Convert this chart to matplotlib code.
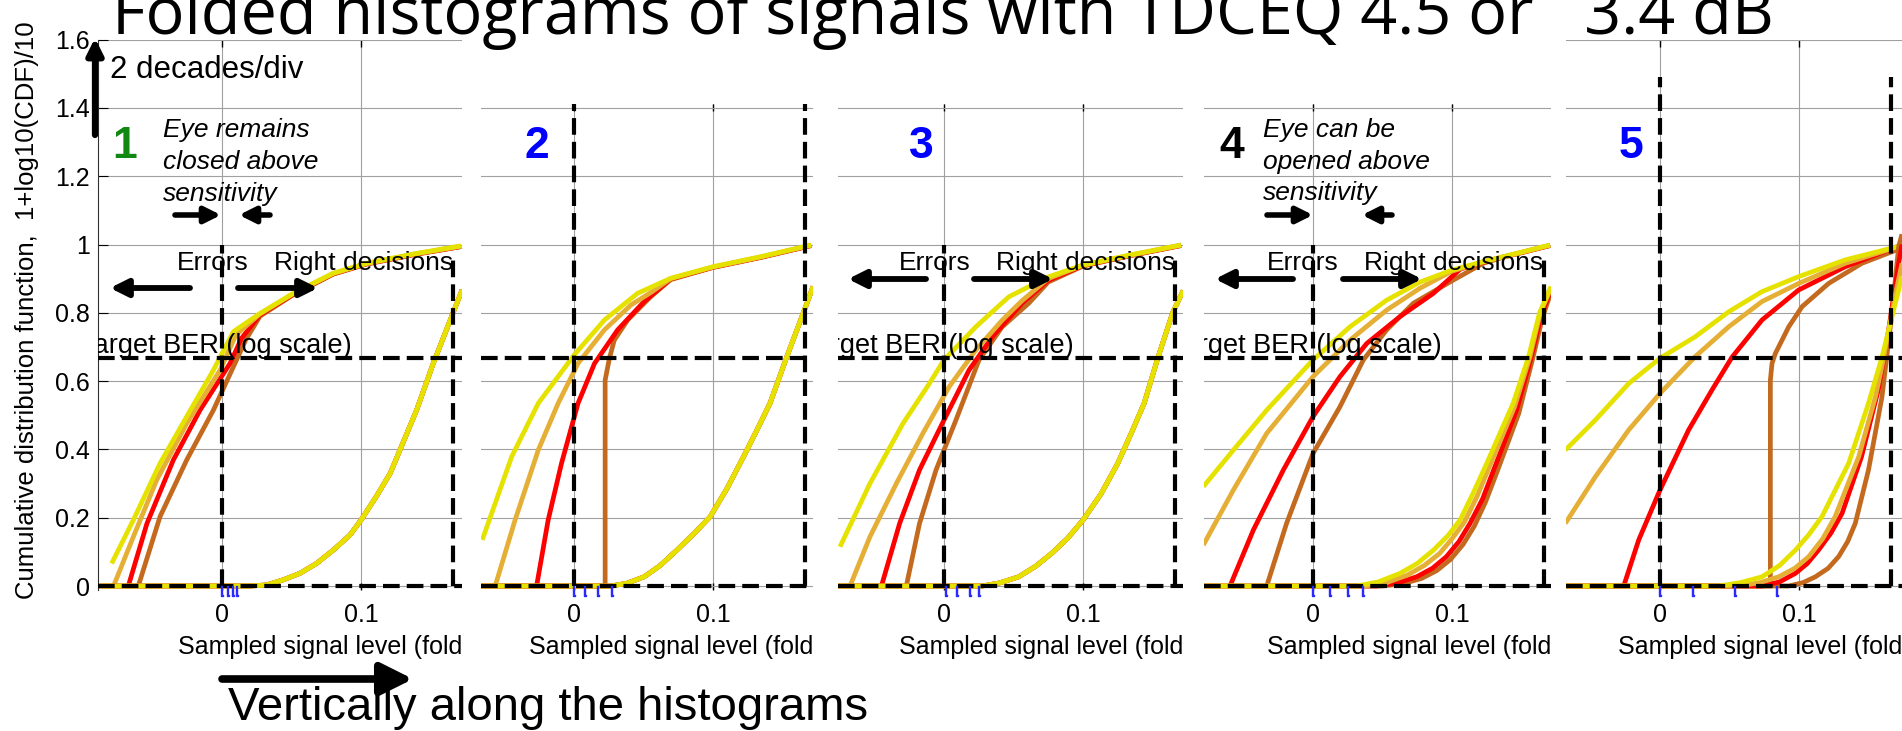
import matplotlib
matplotlib.use("Agg")
import matplotlib.pyplot as plt
from matplotlib.transforms import Affine2D

W, H = 1902, 731

# ---- data (x: sampled level, y: 1+log10(CDF)/10) ----
# panel 1
P1_L_YEL = [(-0.0794, 0.066), (-0.0638, 0.193), (-0.0446, 0.359), (-0.0254, 0.496), (-0.0062, 0.632),
            (0.0082, 0.745), (0.0273, 0.798), (0.0513, 0.857), (0.080, 0.916), (0.104, 0.945), (0.14, 0.974), (0.172, 0.996)]
P1_L_ORA = [(-0.078, 0.0), (-0.0638, 0.144), (-0.047, 0.31), (-0.0254, 0.476), (-0.0014, 0.632),
            (0.010, 0.735), (0.0273, 0.797), (0.0513, 0.856), (0.080, 0.915), (0.104, 0.944), (0.14, 0.973), (0.172, 0.995)]
P1_L_RED = [(-0.0674, 0.0), (-0.054, 0.183), (-0.035, 0.369), (-0.0158, 0.515), (0.0058, 0.652),
            (0.014, 0.725), (0.0273, 0.794), (0.0513, 0.854), (0.080, 0.914), (0.104, 0.943), (0.14, 0.972), (0.172, 0.994)]
P1_L_BRN = [(-0.0602, 0.0), (-0.0446, 0.203), (-0.0254, 0.369), (-0.0062, 0.515), (0.0082, 0.642),
            (0.017, 0.72), (0.0273, 0.79), (0.0513, 0.853), (0.080, 0.913), (0.104, 0.943), (0.14, 0.972), (0.172, 0.994)]
P1_R = [(-0.09, 0.0), (0.02, 0.0), (0.032, 0.003), (0.044, 0.018), (0.056, 0.037), (0.068, 0.066), (0.080, 0.105),
        (0.092, 0.149), (0.1, 0.193), (0.111, 0.262), (0.121, 0.33), (0.128, 0.398), (0.140, 0.515),
        (0.152, 0.652), (0.1727, 0.867)]

# panel 2
P2_L_YEL = [(-0.066, 0.135), (-0.0448, 0.379), (-0.0257, 0.535), (0.0, 0.676), (0.0219, 0.779), (0.0457, 0.857),
            (0.0695, 0.901), (0.1, 0.935), (0.134, 0.964), (0.1707, 0.9985)]
P2_L_ORA = [(-0.0567, 0.0), (-0.0424, 0.193), (-0.0257, 0.398), (-0.0114, 0.535), (0.0029, 0.652), (0.0219, 0.75),
            (0.041, 0.823), (0.0555, 0.86), (0.0695, 0.90), (0.1, 0.934), (0.134, 0.963), (0.1707, 0.998)]
P2_L_RED = [(-0.0269, 0.0), (-0.0186, 0.193), (-0.009, 0.359), (0.0029, 0.535), (0.0148, 0.652), (0.0314, 0.75),
            (0.0505, 0.833), (0.0695, 0.899), (0.1, 0.933), (0.134, 0.962), (0.1707, 0.997)]
P2_L_BRN = [(-0.07, 0.0), (0.0224, 0.0), (0.0224, 0.603), (0.0255, 0.667), (0.029, 0.72), (0.0386, 0.779),
            (0.0552, 0.847), (0.0695, 0.897), (0.1, 0.933), (0.134, 0.962), (0.1707, 0.997)]
P2_R = [(-0.07, 0.0), (0.0267, 0.0), (0.038, 0.008), (0.0505, 0.027), (0.062, 0.06), (0.074, 0.105), (0.086, 0.152),
        (0.098, 0.203), (0.11, 0.285), (0.122, 0.379), (0.132, 0.46), (0.141, 0.535), (0.153, 0.67),
        (0.165, 0.8), (0.172, 0.877)]

# panel 3
P3_L_YEL = [(-0.0748, 0.115), (-0.0533, 0.30), (-0.0295, 0.476), (-0.0105, 0.593), (0.0, 0.662), (0.0229, 0.759),
            (0.0467, 0.847), (0.075, 0.905), (0.1, 0.940), (0.137, 0.972), (0.1705, 0.9985)]
P3_L_ORA = [(-0.0676, 0.0), (-0.0533, 0.144), (-0.0343, 0.30), (-0.0152, 0.447), (0.0038, 0.584), (0.0229, 0.691),
            (0.042, 0.779), (0.056, 0.835), (0.075, 0.90), (0.1, 0.939), (0.137, 0.971), (0.1705, 0.998)]
P3_L_RED = [(-0.045, 0.0), (-0.0319, 0.1835), (-0.0176, 0.34), (0.0, 0.486), (0.018, 0.632), (0.0348, 0.73),
            (0.0562, 0.828), (0.075, 0.895), (0.1, 0.938), (0.137, 0.970), (0.1705, 0.997)]
P3_L_BRN = [(-0.0271, 0.0), (-0.0176, 0.1835), (-0.0057, 0.34), (0.0086, 0.486), (0.0252, 0.662), (0.0419, 0.759),
            (0.061, 0.828), (0.075, 0.89), (0.1, 0.937), (0.137, 0.970), (0.1705, 0.997)]
P3_R = [(-0.08, 0.0), (0.0276, 0.0), (0.04, 0.009), (0.0538, 0.027), (0.066, 0.058), (0.0776, 0.096), (0.089, 0.14),
        (0.1, 0.193), (0.113, 0.27), (0.125, 0.359), (0.135, 0.45), (0.144, 0.535), (0.154, 0.67),
        (0.1645, 0.8), (0.172, 0.865)]

# panel 4
P4_L_YEL = [(-0.0789, 0.291), (-0.0573, 0.398), (-0.0333, 0.515), (0.0, 0.662), (0.0266, 0.759), (0.053, 0.837),
            (0.077, 0.89), (0.1, 0.925), (0.1225, 0.95), (0.1345, 0.962), (0.1705, 0.9985)]
P4_L_ORA = [(-0.0789, 0.12), (-0.0573, 0.281), (-0.0333, 0.447), (0.0, 0.613), (0.0266, 0.72), (0.053, 0.808),
            (0.077, 0.872), (0.1, 0.922), (0.1225, 0.949), (0.1345, 0.961), (0.1705, 0.998)]
P4_L_RED = [(-0.0597, 0.0), (-0.0429, 0.164), (-0.0213, 0.34), (0.0, 0.496), (0.0194, 0.613), (0.0386, 0.71),
            (0.0626, 0.789), (0.0866, 0.857), (0.106, 0.928), (0.1225, 0.948), (0.1345, 0.961), (0.1705, 0.997)]
P4_L_BRN = [(-0.0333, 0.0), (-0.019, 0.1835), (0.0, 0.388), (0.0194, 0.525), (0.0362, 0.662), (0.053, 0.75),
            (0.0722, 0.828), (0.101, 0.896), (0.1225, 0.945), (0.1345, 0.960), (0.1705, 0.997)]
P4_R_YEL = [(-0.08, 0.0), (0.0314, 0.0), (0.047, 0.012), (0.0626, 0.037), (0.075, 0.066), (0.0866, 0.105),
            (0.097, 0.147), (0.1058, 0.193), (0.115, 0.27), (0.125, 0.359), (0.144, 0.535), (0.155, 0.67),
            (0.163, 0.8), (0.1712, 0.877)]
P4_R_ORA = [(-0.08, 0.0), (0.038, 0.0), (0.053, 0.01), (0.068, 0.032), (0.08, 0.06), (0.091, 0.095), (0.1, 0.138),
            (0.109, 0.188), (0.118, 0.262), (0.127, 0.35), (0.145, 0.525), (0.156, 0.67), (0.1635, 0.8), (0.1712, 0.872)]
P4_R_RED = [(-0.08, 0.0), (0.0458, 0.0), (0.06, 0.008), (0.0746, 0.027), (0.086, 0.052), (0.096, 0.086),
            (0.105, 0.13), (0.113, 0.1835), (0.122, 0.255), (0.13, 0.34), (0.1465, 0.515), (0.157, 0.67),
            (0.164, 0.79), (0.1712, 0.867)]
P4_R_BRN = [(-0.08, 0.0), (0.05, 0.0), (0.064, 0.006), (0.078, 0.022), (0.089, 0.045), (0.099, 0.078),
            (0.108, 0.122), (0.116, 0.175), (0.124, 0.245), (0.132, 0.33), (0.148, 0.505), (0.158, 0.665),
            (0.165, 0.785), (0.1712, 0.86)]

# panel 5
P5_L_YEL = [(-0.0681, 0.398), (-0.0465, 0.486), (-0.0225, 0.593), (0.0, 0.667), (0.0254, 0.73), (0.0494, 0.803),
            (0.0734, 0.862), (0.0998, 0.906), (0.1333, 0.955), (0.1741, 0.997)]
P5_L_ORA = [(-0.0681, 0.1835), (-0.0465, 0.32), (-0.0225, 0.457), (0.0, 0.564), (0.0254, 0.672), (0.0494, 0.759),
            (0.0734, 0.833), (0.0998, 0.886), (0.1333, 0.945), (0.1741, 0.997)]
P5_L_RED = [(-0.0261, 0.0), (-0.0153, 0.135), (0.0, 0.281), (0.0206, 0.457), (0.0374, 0.574), (0.0518, 0.67),
            (0.0734, 0.779), (0.0998, 0.867), (0.1333, 0.935), (0.1741, 0.999)]
P5_L_BRN = [(-0.07, 0.0), (0.0794, 0.0), (0.0794, 0.603), (0.0806, 0.652), (0.083, 0.681), (0.0926, 0.759),
            (0.1022, 0.818), (0.1213, 0.886), (0.1453, 0.945), (0.1741, 0.99)]
P5_R_YEL = [(-0.07, 0.0), (0.0422, 0.0), (0.058, 0.01), (0.0734, 0.027), (0.086, 0.06), (0.0974, 0.105),
            (0.107, 0.15), (0.1165, 0.203), (0.1357, 0.359), (0.150, 0.535), (0.1597, 0.67), (0.1669, 0.789),
            (0.1741, 0.906)]
P5_R_ORA = [(-0.07, 0.0), (0.0566, 0.0), (0.072, 0.01), (0.0854, 0.027), (0.097, 0.052), (0.107, 0.086),
            (0.117, 0.138), (0.126, 0.203), (0.143, 0.379), (0.155, 0.554), (0.161, 0.67), (0.169, 0.847),
            (0.1741, 0.945)]
P5_R_RED = [(-0.07, 0.0), (0.0734, 0.0), (0.086, 0.012), (0.0974, 0.037), (0.106, 0.066), (0.114, 0.105),
            (0.123, 0.155), (0.131, 0.213), (0.145, 0.379), (0.157, 0.574), (0.1645, 0.75), (0.1717, 0.945),
            (0.1741, 1.0)]
P5_R_BRN = [(-0.07, 0.0), (0.0926, 0.0), (0.103, 0.01), (0.1118, 0.027), (0.121, 0.052), (0.1285, 0.086),
            (0.135, 0.13), (0.1405, 0.1835), (0.150, 0.34), (0.1597, 0.554), (0.1669, 0.8), (0.1717, 0.994),
            (0.1741, 1.03)]

# curves per panel, drawn in this colour order: brown, red, orange, yellow
CURVES = [
    [P1_L_BRN, P1_L_RED, P1_L_ORA, P1_L_YEL, P1_R, P1_R, P1_R, P1_R],
    [P2_L_BRN, P2_L_RED, P2_L_ORA, P2_L_YEL, P2_R, P2_R, P2_R, P2_R],
    [P3_L_BRN, P3_L_RED, P3_L_ORA, P3_L_YEL, P3_R, P3_R, P3_R, P3_R],
    [P4_L_BRN, P4_L_RED, P4_L_ORA, P4_L_YEL, P4_R_BRN, P4_R_RED, P4_R_ORA, P4_R_YEL],
    [P5_L_BRN, P5_L_RED, P5_L_ORA, P5_L_YEL, P5_R_BRN, P5_R_RED, P5_R_ORA, P5_R_YEL],
]
COLORS = ["#c46a1e", "#ff0000", "#e5ae35", "#e6e200"]

TARGET_BER = 0.667          # 1+log10(BER)/10
EYE_LEFT, EYE_RIGHT = 0.0, 0.1665
VLINE_TOP = [(1.0, 0.96), (1.41, 1.41), (1.0, 0.965), (1.0, 0.96), (1.49, 1.49)]
BLUE_MARKS = [[0.0, 0.004, 0.008, 0.011], [0.0, 0.008, 0.017, 0.027], [0.0014, 0.009, 0.019, 0.025],
              [0.0, 0.012, 0.025, 0.036], [0.0, 0.024, 0.054, 0.084]]
X_TICKS = [0, 0.1]
X_TICK_LABELS = ["0", "0.1"]
Y_TICKS = [0, 0.2, 0.4, 0.6, 0.8, 1.0, 1.2, 1.4, 1.6]
Y_TICK_LABELS = ["0", "0.2", "0.4", "0.6", "0.8", "1", "1.2", "1.4", "1.6"]
NUMBERS = ["1", "2", "3", "4", "5"]
NUMBER_COLORS = ["#118811", "#0000ff", "#0000ff", "#000000", "#0000ff"]
TITLE = "Folded histograms of signals with TDCEQ 4.5 or   3.4 dB"

# ---- layout (pixels, y measured from the top) ----
PANELS = [(98, 222, 462, 1.6), (481, 574, 813, 1.41), (838, 944, 1183, 1.41),
          (1204, 1313, 1551, 1.41), (1566, 1660, 1902, 1.6)]
NUMBER_X = [125, 537, 921, 1232, 1631]
PX_X = 1390.0
PX_Y = 341.5
Y0 = 586.0
YBOT = -0.012

plt.rcParams["font.family"] = ["Liberation Sans", "DejaVu Sans"]
fig = plt.figure(figsize=(W / 100, H / 100), dpi=100)
PIX = Affine2D().scale(1, -1).translate(0, H)

axes = []
for i, (left, zero, right, ytop) in enumerate(PANELS):
    top_px = Y0 - ytop * PX_Y
    bot_px = Y0 - YBOT * PX_Y
    ax = fig.add_axes([left / W, 1 - bot_px / H, (right - left) / W, (bot_px - top_px) / H])
    ax.set_xlim((left - zero) / PX_X, (right - zero) / PX_X)
    ax.set_ylim(YBOT, ytop)
    ax.grid(True, color="#a0a0a0", lw=0.8)
    ax.set_axisbelow(True)
    for s in ax.spines.values():
        s.set_visible(False)

    for k, pts in enumerate(CURVES[i]):
        xs = [p[0] for p in pts]
        ys = [p[1] for p in pts]
        ax.plot(xs, ys, color=COLORS[k % 4], lw=3.4, solid_capstyle="butt", solid_joinstyle="round", zorder=2)

    dash = dict(color="k", lw=3, dashes=(4, 1.7), zorder=3)
    ax.axhline(TARGET_BER, **dash)
    ax.axhline(0, **dash)
    ax.plot([EYE_LEFT, EYE_LEFT], [0, VLINE_TOP[i][0]], **dash)
    ax.plot([EYE_RIGHT, EYE_RIGHT], [0, VLINE_TOP[i][1]], **dash)

    ax.plot(BLUE_MARKS[i], [-0.014] * len(BLUE_MARKS[i]), ls="none", marker=r"$\lfloor$",
            color="#2a2aff", ms=7, clip_on=False, zorder=4)

    ax.set_xticks(X_TICKS)
    ax.set_xticklabels(X_TICK_LABELS)
    ax.tick_params(axis="x", direction="in", top=True, length=5, width=1, labelsize=18, pad=9)
    yt = [t for t in Y_TICKS if t <= ytop + 1e-9]
    ax.set_yticks(yt)
    if i == 0:
        ax.spines["left"].set_visible(True)
        ax.spines["left"].set_color("#303030")
        ax.set_yticklabels(Y_TICK_LABELS[:len(yt)])
        ax.tick_params(axis="y", direction="in", length=7, labelsize=18, pad=6)
    else:
        ax.tick_params(axis="y", length=0, labelleft=False)
    axes.append(ax)

    fig.text(right, 647, "Sampled signal level (fold", transform=PIX, ha="right", va="center", fontsize=18)
    fig.text(NUMBER_X[i], 146, NUMBERS[i], transform=PIX, ha="center", va="center",
             fontsize=32, fontweight="bold", color=NUMBER_COLORS[i])

# annotations inside the panels
for i, (err_x, right_x, ber_end, txt_y) in zip(
        [0, 2, 3], [(177, 274, 352, 263), (899, 996, 1074, 263), (1267, 1364, 1442, 263)]):
    fig.text(err_x, txt_y, "Errors", transform=PIX, va="center", fontsize=19)
    fig.text(right_x, txt_y, "Right decisions", transform=PIX, va="center", fontsize=19)
    axes[i].text(ber_end, 346, "Target BER (log scale)", transform=PIX, ha="right", va="center",
                 fontsize=19.5, clip_on=True, zorder=5)

fig.text(163, 130, "Eye remains", transform=PIX, va="center", fontsize=19, style="italic")
fig.text(163, 162, "closed above", transform=PIX, va="center", fontsize=19, style="italic")
fig.text(163, 194, "sensitivity", transform=PIX, va="center", fontsize=19, style="italic")
fig.text(1263, 130, "Eye can be", transform=PIX, va="center", fontsize=19, style="italic")
fig.text(1263, 162, "opened above", transform=PIX, va="center", fontsize=19, style="italic")
fig.text(1263, 193, "sensitivity", transform=PIX, va="center", fontsize=19, style="italic")
fig.text(110, 70, "2 decades/div", transform=PIX, va="center", fontsize=22.5)

fig.text(27, 310, "Cumulative distribution function,  1+log10(CDF)/10", transform=PIX, rotation=90,
         ha="center", va="center", fontsize=18.5)

title = fig.text(112, 34, TITLE, transform=PIX, va="baseline", fontsize=46, family="Open Sans")
fig.text(228, 720, "Vertically along the histograms", transform=PIX, va="baseline", fontsize=34)

# fit the title to the width it has in the slide (112 .. 1773 px)
fig.canvas.draw()
tw = title.get_window_extent().width
title.set_fontsize(46 * 1661.0 / tw)

# arrows on an overlay
over = fig.add_axes([0, 0, 1, 1], zorder=10)
over.axis("off")


def arrow(x0, y0, x1, y1, lw=4.2, ms=26):
    over.annotate("", xy=(x1, H - y1), xytext=(x0, H - y0), xycoords="figure pixels",
                  textcoords="figure pixels",
                  arrowprops=dict(arrowstyle="-|>", lw=lw, color="k", mutation_scale=ms,
                                  shrinkA=0, shrinkB=0))


arrow(95, 135, 95, 38, lw=4.5, ms=24)
arrow(175, 215, 221, 215, lw=4, ms=24)
arrow(270, 215, 239, 215, lw=4, ms=24)
arrow(1267, 215, 1313, 215, lw=4, ms=24)
arrow(1392, 215, 1362, 215, lw=4, ms=24)
for lt, ltip, rt, rtip, y in [(190, 110, 238, 318, 288), (926, 848, 974, 1053, 279), (1293, 1215, 1343, 1422, 279)]:
    arrow(lt, y, ltip, y)
    arrow(rt, y, rtip, y)
arrow(222, 679, 413, 679, lw=5.5, ms=48)

fig.savefig("out.png", dpi=100)
